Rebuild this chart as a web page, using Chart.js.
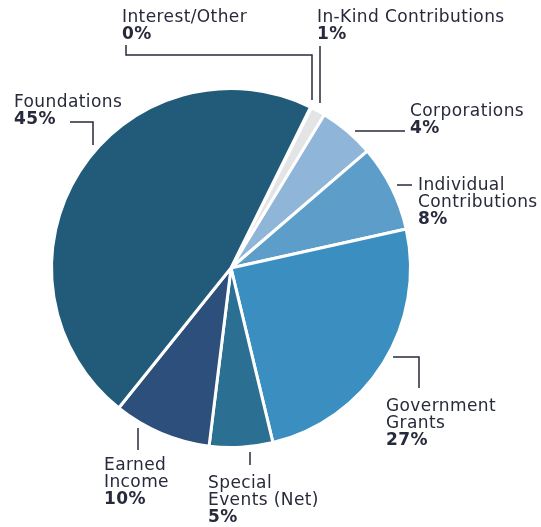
<!DOCTYPE html>
<html>
<head>
<meta charset="utf-8">
<script src="https://cdn.jsdelivr.net/npm/chart.js@4"></script>
<style>
  html, body { margin: 0; padding: 0; background: #fff; }
  #wrap { width: 541px; height: 527px; }
</style>
</head>
<body>
<div id="wrap"><canvas id="chart-area" width="541" height="527"></canvas></div>
<script>
  // slice order goes clockwise from the top right
  var categories = ['Interest/Other', 'In-Kind Contributions', 'Corporations', 'Individual Contributions',
                    'Government Grants', 'Special Events (Net)', 'Earned Income', 'Foundations'];
  // shares as drawn in the picture
  var shares = [0.1, 1.3, 5.0, 7.8, 24.7, 5.7, 8.8, 46.5];
  // printed percentages
  var pctLabels = ['0%', '1%', '4%', '8%', '27%', '5%', '10%', '45%'];
  var nameLines = [['Interest/Other'], ['In-Kind Contributions'], ['Corporations'], ['Individual', 'Contributions'],
                   ['Government', 'Grants'], ['Special', 'Events (Net)'], ['Earned', 'Income'], ['Foundations']];
  var colors = ['#e3e4e6', '#e3e4e6', '#8fb6d9', '#5c9ec9', '#3b8fc0', '#2b6f93', '#2d4f7b', '#225b7a'];

  var ink = '#272a3b';
  // label placement, relative to the pie centre (dx, dy of first baseline) and leader paths
  var labelPos = [
    { x: -109, y: -246, path: [[-105, -223], [-105, -213], [81, -213], [81, -168]] },
    { x: 86, y: -246, path: [[89, -222], [89, -165]] },
    { x: 179, y: -152, path: [[124, -137], [174, -137]] },
    { x: 187, y: -78, path: [[166, -83], [181, -83]] },
    { x: 155, y: 143, path: [[162, 89], [188, 89], [188, 120]] },
    { x: -23, y: 220, path: [[19, 184], [19, 197]] },
    { x: -127, y: 202, path: [[-93, 160], [-93, 182]] },
    { x: -217, y: -161, path: [[-161, -146], [-138, -146], [-138, -123]] }
  ];

  var labelPlugin = {
    id: 'sideLabels',
    afterDraw: function (chart) {
      var ctx = chart.ctx;
      var arc = chart.getDatasetMeta(0).data[0];
      var cx = arc.x, cy = arc.y;
      ctx.save();
      ctx.strokeStyle = ink;
      ctx.lineWidth = 1.5;
      ctx.fillStyle = ink;
      ctx.textBaseline = 'alphabetic';
      ctx.textAlign = 'left';
      ctx.letterSpacing = '0.4px';
      for (var i = 0; i < categories.length; i++) {
        var p = labelPos[i];
        ctx.beginPath();
        for (var k = 0; k < p.path.length; k++) {
          var px = cx + p.path[k][0], py = cy + p.path[k][1];
          if (k === 0) ctx.moveTo(px, py); else ctx.lineTo(px, py);
        }
        ctx.stroke();
        var lines = nameLines[i];
        ctx.font = '17px "DejaVu Sans"';
        for (var j = 0; j < lines.length; j++) {
          ctx.fillText(lines[j], cx + p.x, cy + p.y + j * 17);
        }
        ctx.font = 'bold 17px "DejaVu Sans"';
        ctx.fillText(pctLabels[i], cx + p.x, cy + p.y + lines.length * 17);
      }
      ctx.restore();
    }
  };

  var ctx = document.getElementById('chart-area').getContext('2d');
  window.myPie = new Chart(ctx, {
    type: 'pie',
    data: {
      labels: categories,
      datasets: [{
        data: shares,
        backgroundColor: colors,
        borderColor: '#ffffff',
        borderWidth: [0, 3, 3, 3, 3, 3, 3, 3]
      }]
    },
    options: {
      responsive: false,
      animation: false,
      rotation: 26.3,
      layout: { padding: { left: 50, right: 129, top: 87, bottom: 78 } },
      plugins: {
        legend: { display: false },
        tooltip: { enabled: false }
      }
    },
    plugins: [labelPlugin]
  });
</script>
</body>
</html>
